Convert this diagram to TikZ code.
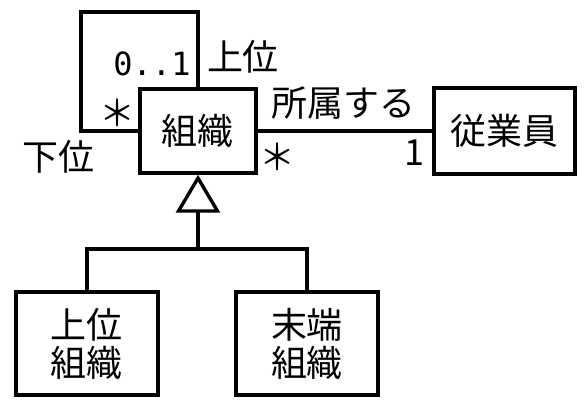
\documentclass[tikz,border=0pt]{standalone}
\usepackage{fontspec}
\setmainfont{Noto Sans CJK JP}
\newfontfamily\monofont{DejaVu Sans Mono}
\usetikzlibrary{arrows.meta}

\begin{document}
\begin{tikzpicture}[x=0.5pt,y=-0.5pt,line width=1.7pt,
    font=\fontsize{18}{19}\selectfont,
    class/.style={draw,fill=white,inner sep=0pt,align=center}]
  \useasboundingbox (0,0) rectangle (586,408);
  % classes
  \node[class,minimum width=58pt,minimum height=42pt] (org) at (198,131) {組織};
  \node[class,minimum width=70.5pt,minimum height=43pt] (emp) at (504.5,131) {従業員};
  \node[class,minimum width=71pt,minimum height=51.5pt] (upper) at (87,343.5) {上位\\組織};
  \node[class,minimum width=71pt,minimum height=51.5pt] (leaf) at (307,343.5) {末端\\組織};

  % associations and generalization
  \coordinate (loop) at (81,12);
  \coordinate (bar) at (198,249);
  \draw (org.west) -| (loop) -| (org.north);
  \draw (org.east) -- (emp.west);
  \draw (upper.north) |- (bar) -| (leaf.north);
  \draw[-{Triangle[open,length=19pt,width=22pt]}] (bar) -- (org.south);

  % roles and multiplicities
  \node (m1) at (152,64) {\monofont\fontsize{16}{16}\selectfont 0..1};
  \node (r1) at (243,57) {上位};
  \node (m2) at (117,113) {＊};
  \node (r2) at (59,157) {下位};
  \node (a1) at (344,103) {所属する};
  \node (m3) at (278,157) {＊};
  \node (m4) at (414,153) {1};
\end{tikzpicture}
\end{document}
